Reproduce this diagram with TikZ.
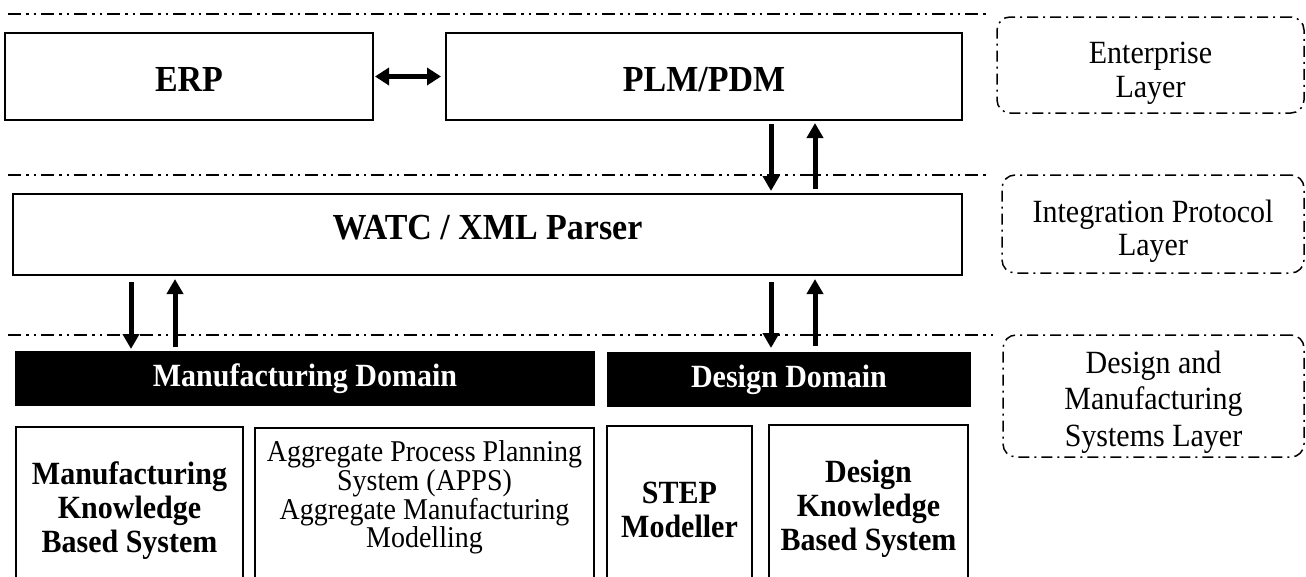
\documentclass[tikz,border=0pt]{standalone}
\usepackage{fontspec}
\setmainfont{Liberation Serif}[FakeStretch=0.926]
\usetikzlibrary{arrows.meta,calc}

\tikzset{
  frame/.style={draw, line width=1.9pt, inner sep=0pt, outer sep=0pt, anchor=north west},
  bigtext/.style={inner sep=0pt, font=\bfseries\fontsize{36.7}{40}\selectfont},
  subbox/.style={frame, align=center, font=\bfseries\fontsize{32.4}{34}\selectfont},
  plaintext/.style={align=center, inner sep=0pt, font=\fontsize{30.2}{27}\selectfont},
  domainbar/.style={fill=black, text=white, inner sep=0pt, outer sep=0pt, anchor=north west,
    font=\bfseries\fontsize{32.4}{35}\selectfont},
  layerbox/.style={draw, line width=1.5pt, rounded corners=13pt, inner sep=0pt, outer sep=0pt,
    anchor=north west, dash pattern=on 11pt off 5pt on 2pt off 5pt},
  layertext/.style={align=center, inner sep=0pt, font=\fontsize{32.4}{35}\selectfont},
  sepline/.style={line width=1.6pt, dash pattern=on 13pt off 5pt on 2.5pt off 5pt on 2.5pt off 5pt},
  flow/.style={line width=5pt, -{Triangle[length=15pt,width=16pt]}},
  biflow/.style={line width=4.6pt, {Triangle[length=14pt,width=17pt]}-{Triangle[length=14pt,width=17pt]}}
}

\begin{document}
\begin{tikzpicture}[x=1pt,y=-1pt]
\useasboundingbox (0,0) rectangle (1306,576);

% layer separators
\coordinate (s1a) at (8,14);   \coordinate (s1b) at (990,14);
\coordinate (s2a) at (8,175);  \coordinate (s2b) at (990,175);
\coordinate (s3a) at (8,335);  \coordinate (s3b) at (997,335);
\draw[sepline] (s1a) -- (s1b);
\draw[sepline] (s2a) -- (s2b);
\draw[sepline] (s3a) -- (s3b);

% enterprise layer
\node[frame, minimum width=368, minimum height=87] (erp) at (5,33) {};
\node[bigtext] (erptext) at ($(erp.center)+(0,3)$) {ERP};
\node[frame, minimum width=516, minimum height=87] (plm) at (446,33) {};
\node[bigtext] (plmtext) at ($(plm.center)+(0,3)$) {PLM/PDM};

% integration protocol layer
\node[frame, minimum width=949, minimum height=81] (watc) at (13,194) {};
\node[bigtext] (watctext) at ($(watc.center)+(0,-7)$) {WATC / XML Parser};

% domains
\node[domainbar, minimum width=580, minimum height=55] (mfg) at (15,351) {Manufacturing Domain};
\node[domainbar, minimum width=364, minimum height=55] (des) at (607,352) {Design Domain};

% systems (their lower edges run past the page)
\node[subbox, minimum width=227, minimum height=167] (mkbs) at (16,427)
  {Manufacturing\\Knowledge\\Based System};
\node[frame, minimum width=339, minimum height=167] (apps) at (255,428) {};
\node[plaintext] (appstext) at ($(apps.center)+(0,-14)$)
  {Aggregate Process Planning\\System (APPS)\\Aggregate Manufacturing\\Modelling};
\node[subbox, minimum width=145, minimum height=167] (step) at (607,426) {STEP\\Modeller};
\node[subbox, minimum width=199, minimum height=167] (dkbs) at (769,425)
  {Design\\Knowledge\\Based System};

% layer labels
\node[layerbox, minimum width=307, minimum height=96] (lent) at (997,17) {};
\node[layertext, font=\fontsize{32.4}{34}\selectfont] (lenttext) at ($(lent.center)+(0,8)$)
  {Enterprise\\Layer};
\node[layerbox, minimum width=302, minimum height=98] (lint) at (1002,175) {};
\node[layertext, font=\fontsize{32.4}{33}\selectfont] (linttext) at ($(lint.center)+(0,7)$)
  {Integration Protocol\\Layer};
\node[layerbox, minimum width=301, minimum height=122] (lsys) at (1003,335) {};
\node[layertext, font=\fontsize{32.4}{36.5}\selectfont] (lsystext) at ($(lsys.center)+(0,6)$)
  {Design and\\Manufacturing\\Systems Layer};

% connectors
\coordinate (xa) at (771,0);
\coordinate (xb) at (815,0);
\coordinate (xc) at (131,0);
\coordinate (xd) at (175,0);

\draw[biflow, shorten <=2pt, shorten >=5pt] (erp.east) -- (plm.west);

\draw[flow, shorten <=4pt, shorten >=3pt] (plm.south -| xa) -- (watc.north -| xa);
\draw[flow, shorten <=5pt, shorten >=3pt] (watc.north -| xb) -- (plm.south -| xb);

\draw[flow, shorten <=7pt, shorten >=2pt] (watc.south -| xc) -- (mfg.north -| xc);
\draw[flow, shorten <=4pt, shorten >=4pt] (mfg.north -| xd) -- (watc.south -| xd);

\draw[flow, shorten <=7pt, shorten >=4pt] (watc.south -| xa) -- (des.north -| xa);
\draw[flow, shorten <=6pt, shorten >=4pt] (des.north -| xb) -- (watc.south -| xb);
\end{tikzpicture}
\end{document}
